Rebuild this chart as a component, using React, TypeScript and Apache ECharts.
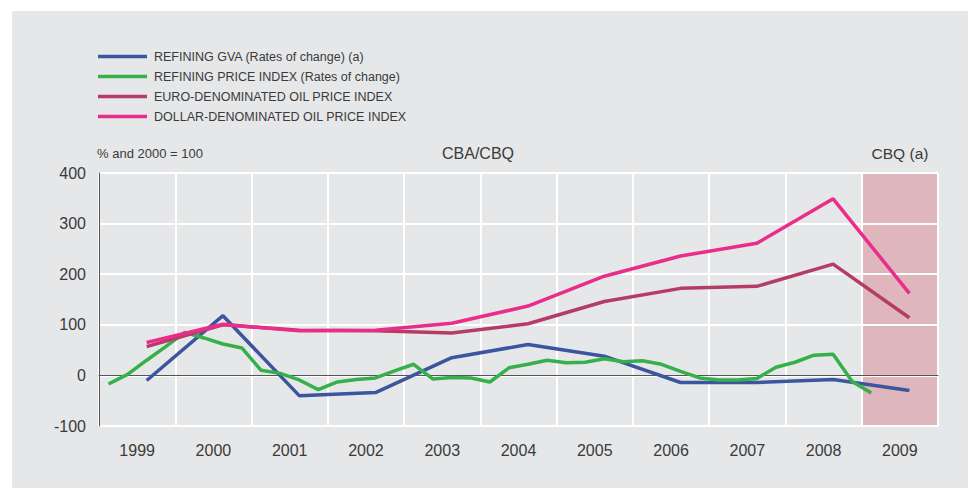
import React, { useEffect, useRef } from 'react';
import * as echarts from 'echarts';

// ---- data ----
const years = ['1999', '2000', '2001', '2002', '2003', '2004', '2005', '2006', '2007', '2008', '2009'];
const seriesNames = [
  'REFINING GVA (Rates of change) (a)',
  'REFINING PRICE INDEX (Rates of change)',
  'EURO-DENOMINATED OIL PRICE INDEX',
  'DOLLAR-DENOMINATED OIL PRICE INDEX',
];
// annual values (plotted at Q3 of each year)
const refiningGva = [-10, 118, -40, -34, 35, 61, 38, -14, -14, -8, -30];
// quarterly values from 1999 Q1 to 2009 Q1
const refiningPriceIndex = [
  -17, 2, 30, 57,
  85, 74, 62, 54,
  10, 4, -9, -28,
  -13, -8, -5, 9,
  22, -7, -4, -5,
  -13, 15, 22, 30,
  25, 26, 33, 27,
  29, 22, 8, -5,
  -9, -9, -6, 16,
  26, 40, 42, -12,
  -35,
];
const euroOilIndex = [57, 100, 89, 88, 84, 102, 146, 172, 176, 220, 114];
const dollarOilIndex = [65, 101, 88, 89, 103, 137, 196, 236, 261, 349, 162];
const yMin = -100;
const yMax = 400;
const yInterval = 100;
const forecastYear = '2009';
const unitLabel = '% and 2000 = 100';
const sourceLabel = 'CBA/CBQ';
const forecastLabel = 'CBQ (a)';

const colors = ['#3b569f', '#35b04a', '#b53c67', '#ea2d8b'];
const FONT = "'Liberation Sans', Arial, Helvetica, sans-serif";
const TEXT = '#3a3a3a';

const annualPoints = (vals: number[]) => vals.map((v, k) => [k * 4 + 2.5, v]);
const quarterlyPoints = (vals: number[]) => vals.map((v, i) => [i + 0.5, v]);

export default function App() {
  const ref = useRef<HTMLDivElement>(null);
  useEffect(() => {
    if (!ref.current) return;
    const chart = echarts.init(ref.current, undefined, { renderer: 'svg' });
    const nQuarters = years.length * 4;
    const fIdx = years.indexOf(forecastYear) * 4;
    const lineSeries = (name: string, data: number[][], color: string, extra: any = {}) => ({
      name,
      type: 'line',
      xAxisIndex: 1,
      data,
      symbol: 'none',
      showSymbol: false,
      lineStyle: { color, width: 3.5 },
      itemStyle: { color },
      z: 2,
      ...extra,
    });
    chart.setOption({
      animation: false,
      backgroundColor: '#e6e7e8',
      textStyle: { fontFamily: FONT },
      legend: {
        orient: 'vertical',
        left: 81,
        top: 34,
        itemWidth: 49,
        itemHeight: 3.5,
        itemGap: 7,
        icon: 'rect',
        data: seriesNames,
        textStyle: { fontSize: 12.5, color: TEXT, fontFamily: FONT, padding: [0, 0, 0, 2] },
        selectedMode: false,
      },
      grid: { left: 87, right: 30, top: 162, bottom: 62, containLabel: false },
      xAxis: [
        {
          type: 'category',
          data: years,
          boundaryGap: true,
          axisLine: { show: true, lineStyle: { color: '#555', width: 1 } },
          axisTick: { show: false },
          axisLabel: { fontSize: 16, color: TEXT, margin: 16, fontFamily: FONT },
          splitLine: { show: true, lineStyle: { color: '#ffffff', width: 2 } },
        },
        {
          type: 'value',
          min: 0,
          max: nQuarters,
          show: false,
          splitLine: { show: false },
        },
      ],
      yAxis: {
        type: 'value',
        min: yMin,
        max: yMax,
        interval: yInterval,
        axisLine: { show: true, lineStyle: { color: '#555', width: 1 } },
        axisTick: { show: false },
        axisLabel: { fontSize: 16, color: TEXT, margin: 13, fontFamily: FONT },
        splitLine: { show: true, lineStyle: { color: '#ffffff', width: 2 } },
      },
      series: [
        {
          name: '__marks',
          type: 'line',
          xAxisIndex: 1,
          data: [],
          markArea: {
            silent: true,
            z: -1,
            itemStyle: { color: '#e0b6bd' },
            data: [[{ xAxis: fIdx, yAxis: yMin }, { xAxis: nQuarters, yAxis: yMax }]],
          },
          markLine: {
            silent: true,
            z: 1,
            symbol: ['none', 'none'],
            label: { show: false },
            lineStyle: { color: '#555', width: 1, type: 'solid' },
            data: [[{ coord: [0.5, 0] }, { coord: [nQuarters - 0.5, 0] }]],
          },
        },
        lineSeries(seriesNames[0], annualPoints(refiningGva), colors[0]),
        lineSeries(seriesNames[1], quarterlyPoints(refiningPriceIndex), colors[1]),
        lineSeries(seriesNames[2], annualPoints(euroOilIndex), colors[2]),
        lineSeries(seriesNames[3], annualPoints(dollarOilIndex), colors[3]),
      ],
      graphic: [
        {
          type: 'text',
          x: 85,
          y: 142,
          style: { text: unitLabel, fontSize: 13, fill: TEXT, fontFamily: FONT, align: 'left', verticalAlign: 'middle' },
        },
        {
          type: 'text',
          x: 466,
          y: 142,
          style: { text: sourceLabel, fontSize: 16, fill: TEXT, fontFamily: FONT, align: 'center', verticalAlign: 'middle' },
        },
        {
          type: 'text',
          x: 888,
          y: 142,
          style: { text: forecastLabel, fontSize: 15.5, fill: TEXT, fontFamily: FONT, align: 'center', verticalAlign: 'middle' },
        },
      ],
    });
    return () => chart.dispose();
  }, []);
  return (
    <div
      ref={ref}
      style={{ position: 'absolute', left: 12, top: 11, width: 956, height: 477 }}
    />
  );
}
